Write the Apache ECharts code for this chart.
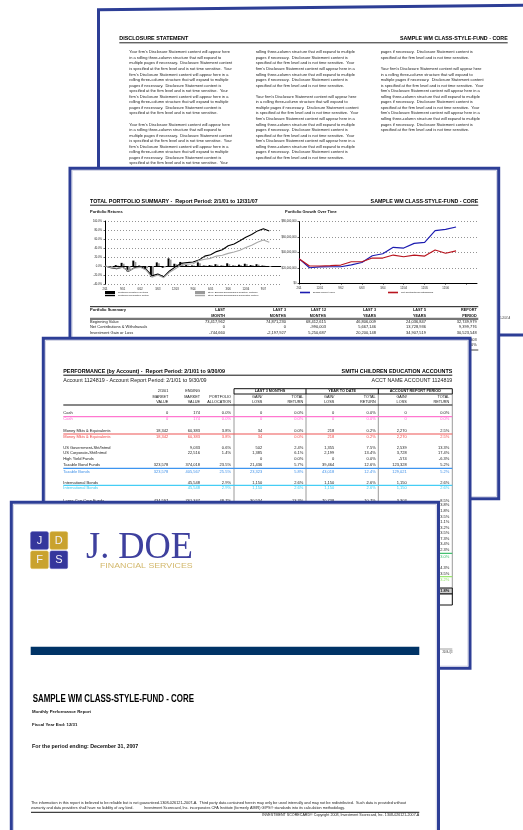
<!DOCTYPE html>
<html><head><meta charset="utf-8">
<script src="https://cdn.jsdelivr.net/npm/echarts@6/dist/echarts.min.js"></script>
<style>html,body{margin:0;padding:0;background:#fff;}#c{width:523px;height:830px;}</style>
</head><body><div id="c"></div>
<script>
// ================= DATA =================
const returnCategories = ['2/01','3/01','6/01','9/01','12/01','3/02','6/02','9/02','12/02','3/03','6/03','9/03','12/03','3/04','6/04','9/04','12/04','3/05','6/05','9/05','12/05','3/06','6/06','9/06','12/06','3/07','6/07','9/07','12/07','',''];
const portfolioQuarterly = [null,-3,2,7,-12,12,1,-6,-24,8,-4,17,5,9,2,1,8,1,2,4,1,6,1,3,5,2,4,1,-2];
const benchmarkQuarterly = [null,-2,1,5,-10,9,-1,-5,-20,6,-3,14,4,7,1,1,6,1,2,3,1,4,1,2,4,2,3,1,-2];
const portfolioCumulative = [0,-4,-6,-2,-12,-4,-1,-7,-22,-18,-24,-11,-2,6,7.5,9,13,22,25,32,36,45,49,56,64,70,78,83,78];
const benchmarkCumulative = [0,-3,-5,-3,-11,-5,-3,-9,-25,-20,-26,-14,-6,2,4,5,12,15,17,22,24,28,31,35,41,46,53,58,53];
const returnTicks = [-40,-20,0,20,40,60,80,100];

const growthCategories = ['2/01','6/01','12/01','3/02','9/02','3/03','6/03','12/03','3/04','9/04','12/04','6/05','12/05','6/06','12/06','12/07','',''];
const endingMarketValue = [32,20.2,21.3,21.5,21.5,24,27,35.8,38.4,46.7,45.8,51.9,53.2,68.3,70.1,73.1].map(v=>v*1e6);
const netContributions = [32,22.5,22.5,23,23.7,28,28,32.8,32.8,36.7,34.5,36.7,35.4,43.2,39,42].map(v=>v*1e6);

const disclosureCol1 = [
"Your firm's Disclosure Statement content will appear here",
"in a rolling three-column structure that will expand to",
"multiple pages if necessary.  Disclosure Statement content",
"is specified at the firm level and is not time sensitive.  Your",
"firm's Disclosure Statement content will appear here in a",
"rolling three-column structure that will expand to multiple",
"pages if necessary.  Disclosure Statement content is",
"specified at the firm level and is not time sensitive.  Your",
"firm's Disclosure Statement content will appear here in a",
"rolling three-column structure that will expand to multiple",
"pages if necessary.  Disclosure Statement content is",
"specified at the firm level and is not time sensitive.",
"",
"Your firm's Disclosure Statement content will appear here",
"in a rolling three-column structure that will expand to",
"multiple pages if necessary.  Disclosure Statement content",
"is specified at the firm level and is not time sensitive.  Your",
"firm's Disclosure Statement content will appear here in a",
"rolling three-column structure that will expand to multiple",
"pages if necessary.  Disclosure Statement content is",
"specified at the firm level and is not time sensitive.  Your",
"firm's Disclosure Statement content will appear here in a"];
const disclosureCol2 = [
"rolling three-column structure that will expand to multiple",
"pages if necessary.  Disclosure Statement content is",
"specified at the firm level and is not time sensitive.  Your",
"firm's Disclosure Statement content will appear here in a",
"rolling three-column structure that will expand to multiple",
"pages if necessary.  Disclosure Statement content is",
"specified at the firm level and is not time sensitive.",
"",
"Your firm's Disclosure Statement content will appear here",
"in a rolling three-column structure that will expand to",
"multiple pages if necessary.  Disclosure Statement content",
"is specified at the firm level and is not time sensitive.  Your",
"firm's Disclosure Statement content will appear here in a",
"rolling three-column structure that will expand to multiple",
"pages if necessary.  Disclosure Statement content is",
"specified at the firm level and is not time sensitive.  Your",
"firm's Disclosure Statement content will appear here in a",
"rolling three-column structure that will expand to multiple",
"pages if necessary.  Disclosure Statement content is",
"specified at the firm level and is not time sensitive."];
const disclosureCol3 = [
"pages if necessary.  Disclosure Statement content is",
"specified at the firm level and is not time sensitive.",
"",
"Your firm's Disclosure Statement content will appear here",
"in a rolling three-column structure that will expand to",
"multiple pages if necessary.  Disclosure Statement content",
"is specified at the firm level and is not time sensitive.  Your",
"firm's Disclosure Statement content will appear here in a",
"rolling three-column structure that will expand to multiple",
"pages if necessary.  Disclosure Statement content is",
"specified at the firm level and is not time sensitive.  Your",
"firm's Disclosure Statement content will appear here in a",
"rolling three-column structure that will expand to multiple",
"pages if necessary.  Disclosure Statement content is",
"specified at the firm level and is not time sensitive."];

const summaryHeaders = [['LAST','MONTH'],['LAST 3','MONTHS'],['LAST 12','MONTHS'],['LAST 3','YEARS'],['LAST 5','YEARS'],['REPORT','PERIOD']];
const summaryRowNames = ['Beginning Value','Net Contributions & Withdrawals','Investment Gain or Loss','Ending Value','Total Return'];
const summaryValues = [
 ['73,417,962','74,871,230','68,412,615','46,806,009','24,036,847','32,749,979'],
 ['0','0','-990,003','5,667,146','13,728,936','9,399,776'],
 ['-744,660','-2,197,927','5,250,687','20,200,148','34,907,519','30,523,548'],
 ['72,673,302','72,673,303','72,673,299','72,673,303','72,673,302','72,673,303'],
 ['-1.0%','-2.9%','7.6%','12.8%','16.4%','10.0%']];

const perfHeaderGroups = ['LAST 3 MONTHS','YEAR TO DATE','ACCOUNT REPORT PERIOD'];
const perfColumnHeaders = [['2/1/01','MARKET','VALUE'],['ENDING','MARKET','VALUE'],['','PORTFOLIO','ALLOCATION'],['','GAIN/','LOSS'],['','TOTAL','RETURN'],['','GAIN/','LOSS'],['','TOTAL','RETURN'],['','GAIN/','LOSS'],['','TOTAL','RETURN']];
const perfRowNames = ['Cash','Cash','Money Mkts & Equivalents','Money Mkts & Equivalents','US Government-Sht/Intmd','US Corporate-Sht/Intmd','High Yield Funds','Taxable Bond Funds','Taxable Bonds','International Bonds','International Bonds','Large Cap Core Funds','Large Cap Value Funds','Large Cap Growth Funds','Mid-Cap Core Funds','Mid-Cap Value Funds','Mid-Cap Growth Funds','Small Cap Core Funds','Small Cap Value Funds','Small Cap Growth Funds','Specialty-Real Estate','Domestic Equity','Foreign Large Cap Funds','Diversified Emerging Mkts','International Equity','TOTAL PORTFOLIO'];
const perfRowValues = [
 ['0','174','0.0%','0','0.0%','0','0.0%','0','0.0%'],
 ['0','174','0.0%','0','0.0%','0','0.0%','0','0.0%'],
 ['18,342','60,383','3.8%','34','0.0%','218','0.2%','2,270','2.5%'],
 ['18,342','60,383','3.8%','34','0.0%','218','0.2%','2,270','2.5%'],
 ['','9,033','0.6%','502','2.4%','1,355','7.5%','2,539','13.3%'],
 ['','22,516','1.4%','1,385','6.1%','2,199','13.4%','3,728','17.4%'],
 ['','','','0','0.0%','0','0.0%','-574','-6.3%'],
 ['323,578','374,018','23.5%','21,436','5.7%','39,464','12.6%','123,328','5.2%'],
 ['323,578','405,567','25.5%','23,323','5.8%','43,018','12.4%','129,021','5.2%'],
 ['','45,548','2.9%','1,150','2.6%','1,150','2.6%','1,150','2.6%'],
 ['','45,548','2.9%','1,150','2.6%','1,150','2.6%','1,150','2.6%'],
 ['434,597','761,347','48.7%','30,534','13.3%','70,738','10.7%','3,303','8.5%'],
 ['','52,180','3.3%','1,874','3.8%','5,127','10.9%','5,127','3.8%'],
 ['','48,611','3.1%','906','1.8%','4,216','9.5%','4,216','1.8%'],
 ['','33,902','2.1%','1,088','3.5%','2,804','9.0%','2,804','3.5%'],
 ['','21,457','1.4%','238','1.1%','1,512','7.6%','1,512','1.1%'],
 ['','18,220','1.1%','570','3.2%','1,318','7.8%','1,318','3.2%'],
 ['','15,804','1.0%','534','3.5%','1,167','8.0%','1,167','3.5%'],
 ['','12,931','0.8%','880','7.3%','1,051','8.9%','1,051','7.3%'],
 ['','11,276','0.7%','371','3.4%','826','7.9%','826','3.4%'],
 ['','9,685','0.6%','218','2.3%','702','7.8%','702','2.3%'],
 ['434,597','985,415','62.1%','37,013','3.9%','89,461','10.0%','21,926','3.0%'],
 ['','58,310','3.7%','2,392','4.3%','6,022','11.5%','6,022','4.3%'],
 ['','24,918','1.6%','843','3.5%','2,617','11.7%','2,617','3.5%'],
 ['','83,228','5.2%','3,235','4.1%','8,639','11.6%','8,639','3.2%'],
 ['776,517','1,589,594','100.0%','64,755','4.2%','142,486','9.8%','163,026','1.8%']];

const coverTitle = 'SAMPLE WM CLASS-STYLE-FUND - CORE';
const coverLines = ['Monthly Performance Report','Fiscal Year End: 12/31','For the period ending: December 31, 2007'];
const footerLines = [
 'The information in this report is believed to be reliable but is not guaranteed.1308-026121-2007-A.  Third party data contained herein may only be used internally and may not be redistributed.  Such data is provided without',
 'warranty and data providers shall have no liability of any kind.          Investment Scorecard, Inc. incorporates CFA Institute (formerly AIMR) GIPS\u00ae standards into its calculation methodology.',
 'INVESTMENT SCORECARD\u00ae Copyright 2008, Investment Scorecard, Inc. 1308-026121-2007-A'];

// ================= DRAWING HELPERS =================
const FONT = 'Liberation Sans';
const BLUE = '#2d3e96';
const mctx = document.createElement('canvas').getContext('2d');
function measure(str, fs, bold, fam){ mctx.font = (bold?'bold ':'') + fs + 'px "' + (fam||FONT) + '"'; return mctx.measureText(str).width; }
const els = [];
function add(e){ e.z = 1; e.silent = true; els.push(e); return e; }
function rect(x,y,w,h,fill,stroke,lw,r){ return add({type:'rect', shape:{x:x,y:y,width:w,height:h,r:r||0}, style:{fill:fill||'none', stroke:stroke||'none', lineWidth:lw||0}}); }
function line(x1,y1,x2,y2,color,lw){ return add({type:'line', shape:{x1:x1,y1:y1,x2:x2,y2:y2}, style:{stroke:color||'#000', lineWidth:lw||1}}); }
function text(x,y,str,o){
  o = o||{};
  const fs = o.fs||4, bold = !!o.bold, fam = o.fam||FONT;
  let sx = o.sx||1;
  if (o.w) sx = o.w / measure(str, fs, bold, fam);
  const al = o.align||'left';
  return add({type:'text', x:x, y:y, scaleX:sx, style:{text:str, fontSize:fs, fontFamily:fam, fontWeight:bold?'bold':'normal', fill:o.color||'#111', textAlign:al, align:al, textVerticalAlign:'middle', verticalAlign:'middle'}});
}
function page(x1,y1,x2,y2){
  rect(x1,y1,x2-x1,y2-y1,'#fff',BLUE,3);
  rect(x1+2.2,y1+2.2,x2-x1-4.4,y2-y1-4.4,'none','#c9cbe0',0.8);
}

// ================= PAGE 1: DISCLOSURE =================
add({type:'polygon', shape:{points:[[98.5,9.8],[540,5.0],[540,335],[98.5,335]]}, style:{fill:'#fff', stroke:BLUE, lineWidth:3}});
text(119.3,38.7,'DISCLOSURE STATEMENT',{fs:5,bold:true,w:69,color:'#000'});
text(507.7,38.7,coverTitle,{fs:5,bold:true,w:107.7,align:'right',color:'#000'});
line(119.3,42.8,507.7,42.8,'#222',1);
(function(){
  const sx = 100.7/measure(disclosureCol1[0],3.8,false);
  [[disclosureCol1,129.3],[disclosureCol2,255.7],[disclosureCol3,380.7]].forEach(function(c){
    c[0].forEach(function(s,i){ if(s) text(c[1],52.3+i*5.55,s,{fs:3.8,sx:sx,color:'#1a1a1a'}); });
  });
  text(510,318.5,'Copyright 2008, Investment Scorecard, Inc. 1308-026121-2007-A',{fs:3,align:'right',color:'#333',sx:0.8});
})();

// ================= PAGE 2: TOTAL PORTFOLIO SUMMARY =================
page(70,168.3,498.7,498.8);
text(90,201.7,'TOTAL PORTFOLIO SUMMARY -  Report Period: 2/1/01 to 12/31/07',{fs:5.5,bold:true,w:167.7,color:'#000'});
text(478.3,201.7,coverTitle,{fs:5.5,bold:true,w:107.7,align:'right',color:'#000'});
line(90,205.2,478.3,205.2,'#222',1);
text(90,211.7,'Portfolio Returns',{fs:3.8,bold:true,w:32.7,color:'#111'});
text(285,211.7,'Portfolio Growth Over Time',{fs:3.8,bold:true,w:51.7,color:'#111'});
(function(){
  const sx = 57.3/measure(summaryRowNames[1],3.8,false);
  const rights = [225,286,326,376,426,476.7];
  line(90,306.7,478.3,306.7,'#111',1);
  text(90,310,'Portfolio Summary',{fs:3.8,bold:true,w:36,color:'#111'});
  summaryHeaders.forEach(function(h,i){
    text(rights[i],310,h[0],{fs:3.6,bold:true,sx:sx,align:'right'});
    text(rights[i],315.7,h[1],{fs:3.6,bold:true,sx:sx,align:'right'});
  });
  line(90,318.9,478.3,318.9,'#777',2.2);
  const ys = [321.7,326.7,333.3,339.7,345];
  summaryRowNames.forEach(function(n,r){
    text(90,ys[r],n,{fs:3.8,sx:sx,color:'#222'});
    summaryValues[r].forEach(function(v,i){ text(rights[i],ys[r],v,{fs:3.8,sx:sx,align:'right',color:'#222'}); });
  });
  line(90,350,478.3,350,'#111',0.8);
})();

// ================= PAGE 3: PERFORMANCE =================
page(43.3,338.3,470,668.3);
text(63.3,371.7,'PERFORMANCE (by Account) -  Report Period: 2/1/01 to 9/30/09',{fs:5.5,bold:true,w:161.7,color:'#000'});
text(452.3,371.7,'SMITH CHILDREN EDUCATION ACCOUNTS',{fs:5.5,bold:true,w:110.7,align:'right',color:'#000'});
line(63.3,375.2,452.3,375.2,'#111',1);
text(63.3,380.3,'Account 1124819 - Account Report Period: 2/1/01 to 9/30/09',{fs:5,w:143.3,color:'#222'});
text(452.3,380.3,'ACCT NAME ACCOUNT 1124819',{fs:5,w:80.7,align:'right',color:'#222'});
(function(){
  const sx = 47.3/measure(perfRowNames[2],3.6,false);
  const rights = [168.3,200,231,262.3,303.3,334.3,375.7,406.7,449.3];
  const vx = [234,306,378.3,452.3];
  vx.forEach(function(x){ line(x,394,x,605,'#9a9a9a',1); });
  rect(234,388.7,218.3,5.3,'#fff','#111',1);
  line(306,388.7,306,394,'#111',1); line(378.3,388.7,378.3,394,'#111',1);
  perfHeaderGroups.forEach(function(g,i){ text((vx[i]+vx[i+1])/2,391.4,g,{fs:3.4,bold:true,sx:sx,align:'center'}); });
  perfColumnHeaders.forEach(function(h,i){
    [391.3,396.8,402.2].forEach(function(y,k){ if(h[k]) text(rights[i],y,h[k],{fs:3.4,sx:sx,align:'right'}); });
  });
  line(63.3,405,452.3,405,'#111',1.2);
  const ys = [413.3,419.3,430.7,436.7,447.7,453.3,459.3,465,471.7,483.3,487.9,500.5,505.3,511,516.7,522.3,527.7,533.3,539,544.3,549.5,556.7,568.3,574,580,591];
  const colorOf = {1:'#ff5ccf',3:'#ee4444',8:'#3d8fe8',10:'#38c8f0',21:'#33bb66',24:'#88e060'};
  const sepLines = [[416.6,'#ff77d0'],[434,'#ee5555'],[468.3,'#3d95f0'],[485.4,'#45cdf5'],[553.3,'#44c070'],[576.7,'#9be870']];
  sepLines.forEach(function(s){ line(63.3,s[0],452.3,s[0],s[1],1.2); });
  rect(63.3,588,389,6,'#cfcfcf','#111',1);
  rect(63.3,594,389,11,'#fff','#111',1);
  perfRowNames.forEach(function(n,r){
    const c = colorOf[r]||'#1a1a1a';
    const b = (r===25);
    text(63.3,ys[r],n,{fs:3.6,sx:sx,color:c,bold:b});
    perfRowValues[r].forEach(function(v,i){ if(v) text(rights[i],ys[r],v,{fs:3.6,sx:sx,align:'right',color:c,bold:b}); });
  });
  line(63.3,649,452.3,649,'#888',0.8);
  text(452.3,651.8,'2009-Q3',{fs:3,align:'right',color:'#333',sx:0.85});
})();

// ================= PAGE 4: COVER =================
page(11.3,502.3,438.5,860);
rect(30.7,531.7,17.6,17.6,'#34369c','#4a4cb0',0.6,1.5);
rect(50,531.7,17.6,17.6,'#c9a22e','#d8b548',0.6,1.5);
rect(30.7,551,17.6,17.6,'#c9a22e','#d8b548',0.6,1.5);
rect(50,551,17.6,17.6,'#34369c','#4a4cb0',0.6,1.5);
[['J',39.5,540.5],['D',58.8,540.5],['F',39.5,559.8],['S',58.8,559.8]].forEach(function(l){
  text(l[1],l[2],l[0],{fs:11,align:'center',color:'#f2f0f8'});
});
text(86,547.6,'J. DOE',{fs:38,fam:'Liberation Serif',w:107,color:'#3e409e'});
text(100,566.3,'FINANCIAL SERVICES',{fs:6.5,w:92.7,color:'#d3b86c'});
rect(30.7,646.7,388.6,8.3,'#003366');
text(32.7,699.3,coverTitle,{fs:10,bold:true,w:161.3,color:'#000'});
text(32,712.3,coverLines[0],{fs:4.2,bold:true,w:59,color:'#111'});
text(32,725,coverLines[1],{fs:4.2,bold:true,w:45.3,color:'#111'});
text(32,746.7,coverLines[2],{fs:6,bold:true,w:106.3,color:'#111'});
text(31,803.3,footerLines[0],{fs:3.3,w:375,color:'#222'});
text(31,808.3,footerLines[1],{fs:3.3,w:314,color:'#222'});
line(31,812.3,419.3,812.3,'#111',1);
text(419.3,815.2,footerLines[2],{fs:3,w:157,align:'right',color:'#222'});

// ================= ECHARTS OPTION =================
const PQ = "Portfolio's Quarterly Returns", PC = "Portfolio's Cumulative Return";
const BQ = "Style: Blended Benchmark's Quarterly Returns", BC = "Style: Blended Benchmark's Cumulative Return";
const EMV = 'Ending Market Value', NCW = 'Net Contributions/Withdrawals';
const lblStyle = {fontSize:2.7, color:'#222', fontFamily:FONT};
function legendOf(name,left,top,h){
  return {data:[{name:name, icon:'rect'}], left:left, top:top, itemWidth:10, itemHeight:h, padding:0, selectedMode:false, z:6,
          textStyle:{fontSize:2.4, color:'#222', fontFamily:FONT, padding:[0,0,0,-2]}};
}
const chart = echarts.init(document.getElementById('c'), null, {renderer:'canvas'});
chart.setOption({
  animation:false,
  textStyle:{fontFamily:FONT},
  grid:[{left:105, top:221, width:176, height:63},{left:299, top:221.7, width:178, height:61.6}],
  xAxis:[
    {type:'category', gridIndex:0, data:returnCategories, boundaryGap:false, z:5,
     axisLine:{show:false}, axisTick:{show:false}, splitLine:{show:false},
     axisLabel:Object.assign({margin:3.5, interval:function(i){return i%3===0 && i<=27;}}, lblStyle)},
    {type:'category', gridIndex:1, data:growthCategories, boundaryGap:false, z:5,
     axisLine:{show:true, lineStyle:{color:'#000', width:1}},
     axisTick:{show:true, length:1.5, interval:function(i){return i%2===0;}, lineStyle:{color:'#000',width:0.6}}, splitLine:{show:false},
     axisLabel:Object.assign({margin:3.5, interval:function(i){return i%2===0 && i<=16;}}, lblStyle)}
  ],
  yAxis:[
    {type:'value', gridIndex:0, min:returnTicks[0], max:returnTicks[returnTicks.length-1], interval:20, z:5,
     axisLine:{show:true, onZero:false, lineStyle:{color:'#000', width:1}},
     axisTick:{show:true, length:1.5, lineStyle:{color:'#000', width:0.6}},
     splitLine:{show:true, lineStyle:{color:'#555', width:0.8, type:[0.8,2.2]}},
     axisLabel:Object.assign({margin:3, formatter:function(v){return v.toFixed(1)+'%';}}, lblStyle)},
    {type:'value', gridIndex:1, min:0, max:80000000, interval:20000000, z:5,
     axisLine:{show:true, lineStyle:{color:'#000', width:1}},
     axisTick:{show:true, length:1.5, lineStyle:{color:'#000', width:0.6}},
     splitLine:{show:true, lineStyle:{color:'#555', width:0.8, type:[0.8,2.2]}},
     axisLabel:Object.assign({margin:2.5, formatter:function(v){return '$'+v.toLocaleString('en-US');}}, lblStyle)}
  ],
  legend:[legendOf(PQ,105,291,3.2), legendOf(PC,105,294.6,1.2), legendOf(BQ,195,291,3.2), legendOf(BC,195,294.6,1.2),
          legendOf(EMV,300,291.5,1.6), legendOf(NCW,388,291.5,1.6)],
  series:[
    {name:PQ, type:'bar', xAxisIndex:0, yAxisIndex:0, data:portfolioQuarterly, barWidth:2, barGap:'0%', color:'#000', z:6},
    {name:BQ, type:'bar', xAxisIndex:0, yAxisIndex:0, data:benchmarkQuarterly, barWidth:2, barGap:'0%', color:'#9a9a9a', z:6},
    {name:PC, type:'line', xAxisIndex:0, yAxisIndex:0, data:portfolioCumulative, showSymbol:false, color:'#000', lineStyle:{width:1.1}, z:7,
     markLine:{silent:true, symbol:'none', label:{show:false}, lineStyle:{color:'#000', width:1, type:'solid'}, data:[{yAxis:0}]}},
    {name:BC, type:'line', xAxisIndex:0, yAxisIndex:0, data:benchmarkCumulative, showSymbol:false, color:'#a8a8a8', lineStyle:{width:1.1}, z:7},
    {name:EMV, type:'line', xAxisIndex:1, yAxisIndex:1, data:endingMarketValue, showSymbol:false, color:'#1c1cb0', lineStyle:{width:1.2}, z:7},
    {name:NCW, type:'line', xAxisIndex:1, yAxisIndex:1, data:netContributions, showSymbol:false, color:'#b8141e', lineStyle:{width:1.2}, z:7}
  ],
  graphic:{elements:els}
});
</script>
</body></html>
